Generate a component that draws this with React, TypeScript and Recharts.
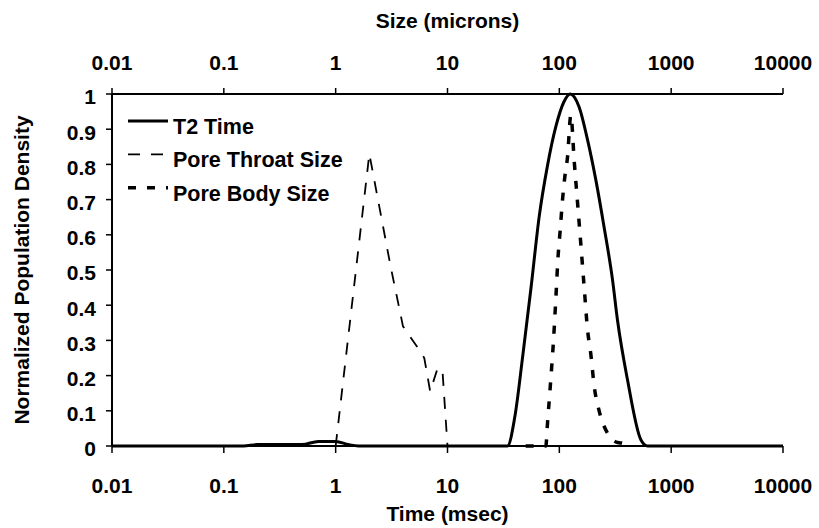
import { LineChart, Line, XAxis, YAxis, Legend } from 'recharts';

// T2 relaxation distribution (time in msec, normalized density)
const t2Times = [0.01, 0.15, 0.2, 0.5, 0.7, 1.0, 1.3, 1.6, 34.4, 40, 47, 56, 66, 78, 93, 110, 125, 150, 179, 212, 251, 299, 331, 407, 537, 616, 10000];
const t2Density = [0, 0, 0.004, 0.004, 0.013, 0.013, 0.004, 0, 0, 0.083, 0.254, 0.453, 0.651, 0.793, 0.907, 0.978, 1.0, 0.964, 0.869, 0.756, 0.623, 0.472, 0.358, 0.188, 0.017, 0, 0];

// Pore throat size distribution
const throatTimes = [1, 2, 3.1, 4, 5.4, 6.2, 7, 8.1, 9, 10];
const throatDensity = [0, 0.83, 0.51, 0.34, 0.28, 0.25, 0.155, 0.218, 0.218, 0];

// Pore body size distribution
const bodyTimes = [50, 75.7, 78.4, 83.9, 88.7, 93.1, 97.5, 101.6, 106.8, 112, 118.3, 126.8, 135.8, 145.6, 156, 166.9, 178.8, 191.4, 205, 227, 270, 332, 368, 437];
const bodyDensity = [0, 0, 0.065, 0.19, 0.3, 0.42, 0.54, 0.61, 0.7, 0.765, 0.82, 0.94, 0.81, 0.69, 0.57, 0.45, 0.33, 0.26, 0.17, 0.1, 0.036, 0.01, 0.008, 0];

const xTicks = [0.01, 0.1, 1, 10, 100, 1000, 10000];
const yTicks = [0, 0.1, 0.2, 0.3, 0.4, 0.5, 0.6, 0.7, 0.8, 0.9, 1];

const toPoints = (times: number[], density: number[]) =>
  times.map((time, i) => ({ time, density: density[i] }));

const FONT = '"Liberation Sans", Arial, sans-serif';
const tickStyle = { fill: '#000', fontSize: 21, fontWeight: 'bold' };
const labelStyle = { fill: '#000', fontSize: 21, fontWeight: 'bold' };

const SERIES = [
  { name: 'T2 Time', width: 3, dash: undefined as string | undefined },
  { name: 'Pore Throat Size', width: 1.8, dash: '12 11' },
  { name: 'Pore Body Size', width: 3.5, dash: '8 11' },
];

function SeriesLegend() {
  return (
    <svg width={280} height={112} style={{ display: 'block' }}>
      {SERIES.map((s, i) => {
        const base = 34 + i * 33.4;
        return (
          <g key={s.name}>
            <line
              x1={8}
              x2={48}
              y1={base - 13}
              y2={base - 13}
              stroke="#000"
              strokeWidth={s.width}
              strokeDasharray={s.dash}
            />
            <text x={53} y={base} fontSize={21.5} fontWeight="bold" fill="#000" fontFamily={FONT}>
              {s.name}
            </text>
          </g>
        );
      })}
    </svg>
  );
}

export default function App() {
  return (
    <div style={{ position: 'fixed', left: 0, top: 0, width: 819, height: 528, background: '#fff', fontFamily: FONT }}>
      <LineChart width={819} height={528} margin={{ top: 0, right: 36, bottom: 0, left: 0 }}>
        <XAxis
          xAxisId="top"
          orientation="top"
          dataKey="time"
          type="number"
          scale="log"
          domain={[0.01, 10000]}
          ticks={xTicks}
          allowDataOverflow
          height={94}
          tickSize={6}
          tickMargin={18}
          tick={tickStyle}
          axisLine={{ stroke: '#000', strokeWidth: 2 }}
          tickLine={{ stroke: '#000', strokeWidth: 1.5 }}
          tickFormatter={(v: number) => String(v)}
          label={{ value: 'Size (microns)', position: 'insideTop', offset: 13, style: labelStyle }}
        />
        <XAxis
          dataKey="time"
          type="number"
          scale="log"
          domain={[0.01, 10000]}
          ticks={xTicks}
          allowDataOverflow
          height={82}
          tickSize={7}
          tickMargin={25}
          tick={tickStyle}
          axisLine={{ stroke: '#000', strokeWidth: 2 }}
          tickLine={{ stroke: '#000', strokeWidth: 1.5 }}
          tickFormatter={(v: number) => String(v)}
          label={{ value: 'Time (msec)', position: 'insideBottom', offset: 7, style: labelStyle }}
        />
        <YAxis
          type="number"
          domain={[0, 1]}
          ticks={yTicks}
          width={112}
          tickSize={6}
          tickMargin={10}
          tick={{ ...tickStyle, dy: 3 }}
          axisLine={{ stroke: '#000', strokeWidth: 2 }}
          tickLine={{ stroke: '#000', strokeWidth: 1.5 }}
          tickFormatter={(v: number) => String(v)}
          label={{
            value: 'Normalized Population Density',
            angle: -90,
            position: 'insideLeft',
            offset: 22,
            style: { ...labelStyle, fontSize: 21, textAnchor: 'middle' },
          }}
        />
        <Legend
          layout="vertical"
          align="center"
          verticalAlign="middle"
          content={<SeriesLegend />}
          wrapperStyle={{ left: 120, top: 100, width: 280 }}
        />
        <Line
          name="T2 Time"
          data={toPoints(t2Times, t2Density)}
          dataKey="density"
          type="monotone"
          stroke="#000"
          strokeWidth={3}
          dot={false}
          activeDot={false}
          isAnimationActive={false}
        />
        <Line
          name="Pore Throat Size"
          data={toPoints(throatTimes, throatDensity)}
          dataKey="density"
          type="linear"
          stroke="#000"
          strokeWidth={1.8}
          strokeDasharray="12 11"
          dot={false}
          activeDot={false}
          isAnimationActive={false}
        />
        <Line
          name="Pore Body Size"
          data={toPoints(bodyTimes, bodyDensity)}
          dataKey="density"
          type="monotone"
          stroke="#000"
          strokeWidth={3.5}
          strokeDasharray="8 11"
          dot={false}
          activeDot={false}
          isAnimationActive={false}
        />
      </LineChart>
    </div>
  );
}
